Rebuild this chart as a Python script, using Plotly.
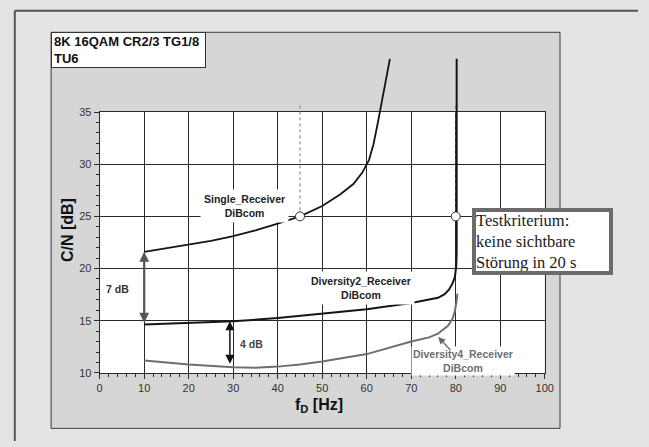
import plotly.graph_objects as go

W, H = 649, 447

# ---------------- data ----------------
single_f = [10, 15, 20, 25, 30, 35, 40, 45, 50, 54, 57, 59, 60.5, 61.5, 62.5, 63.5, 64.5, 65.2]
single_cn = [21.6, 21.95, 22.25, 22.65, 23.1, 23.65, 24.3, 25.0, 26.0, 27.1, 28.1, 29.2, 30.4, 31.9, 34.0, 36.3, 38.5, 40.1]

div2_f = [10, 20, 30, 40, 50, 60, 70, 74, 76, 77.5, 78.5, 79.3, 79.8, 80.1, 80.2, 80.2]
div2_cn = [14.63, 14.8, 14.95, 15.25, 15.65, 16.1, 16.7, 17.0, 17.2, 17.55, 18.0, 18.6, 19.2, 20.2, 21.5, 40.1]

div4_f = [10, 20, 30, 35, 40, 45, 50, 60, 70, 74, 76, 78.3, 79.3, 79.8, 80.2, 80.35]
div4_cn = [11.18, 10.8, 10.55, 10.5, 10.6, 10.8, 11.1, 11.8, 13.0, 13.4, 13.75, 14.54, 15.2, 15.94, 16.9, 17.6]

marker_f = [45, 80]
marker_cn = [25, 25]

x_ticks = [0, 10, 20, 30, 40, 50, 60, 70, 80, 90, 100]
y_ticks = [10, 15, 20, 25, 30, 35]

# ---------------- geometry helpers ----------------
def px_x(p):
    return p / W

def px_y(p):
    return 1 - p / H

PLOT_L, PLOT_R, PLOT_T, PLOT_B = 98.5, 552, 109, 377
Y_MIN, Y_MAX = 10, 35
Y_EXT = 40.6
ppu = (PLOT_B - PLOT_T) / (Y_MAX - Y_MIN)
EXT_T = PLOT_T - (Y_EXT - Y_MAX) * ppu

SANS = "Liberation Sans, Arial, sans-serif"
SERIF = "Liberation Serif, Times New Roman, serif"
GRID = "#2b2b2b"

fig = go.Figure()

# curves on the extended (invisible) axes so they can leave the plot frame at top
fig.add_trace(go.Scatter(x=single_f, y=single_cn, mode="lines", xaxis="x2", yaxis="y2",
                         line=dict(color="#151515", width=1.8), hoverinfo="skip"))
fig.add_trace(go.Scatter(x=div4_f, y=div4_cn, mode="lines", xaxis="x2", yaxis="y2",
                         line=dict(color="#6e6e6e", width=2), hoverinfo="skip"))
fig.add_trace(go.Scatter(x=div2_f, y=div2_cn, mode="lines", xaxis="x2", yaxis="y2",
                         line=dict(color="#151515", width=2), hoverinfo="skip"))
fig.add_trace(go.Scatter(x=marker_f, y=marker_cn, mode="markers", xaxis="x2", yaxis="y2",
                         marker=dict(symbol="circle", size=9, color="white",
                                     line=dict(color="#333333", width=1)),
                         cliponaxis=False, hoverinfo="skip"))

shapes = [
    # outer frame (left + top)
    dict(type="line", xref="paper", yref="paper", x0=px_x(12), x1=px_x(12), y0=0, y1=px_y(5),
         line=dict(color="#555555", width=2), layer="below"),
    dict(type="line", xref="paper", yref="paper", x0=px_x(12), x1=px_x(647), y0=px_y(5), y1=px_y(5),
         line=dict(color="#555555", width=2), layer="below"),
    # panel
    dict(type="rect", xref="paper", yref="paper", x0=px_x(49), x1=px_x(567.5),
         y0=px_y(434), y1=px_y(27), fillcolor="#d6d6d6",
         line=dict(color="#3a3a3a", width=1), layer="below"),
    # white plot area
    dict(type="rect", xref="x", yref="y", x0=0, x1=100, y0=Y_MIN, y1=Y_MAX,
         fillcolor="white", line=dict(width=0), layer="below"),
    # dotted marker lines
    dict(type="line", xref="x2", yref="y2", x0=45, x1=45, y0=25, y1=35.65,
         line=dict(color="#777777", width=1, dash="dot"), layer="below"),
    dict(type="line", xref="x2", yref="y2", x0=80, x1=80, y0=25, y1=35.6,
         line=dict(color="#777777", width=1, dash="dot"), layer="below"),
]

annotations = [
    # title box
    dict(xref="paper", yref="paper", x=px_x(49), y=px_y(27), xanchor="left", yanchor="top",
         text="<b>8K 16QAM CR2/3 TG1/8<br>TU6</b>", showarrow=False, align="left",
         font=dict(family=SANS, size=13, color="#111111"),
         bgcolor="white", bordercolor="#333333", borderwidth=1, borderpad=2,
         width=149, height=30),
    # speed labels
    dict(xref="x", yref="y", x=37.5, y=36.34, xanchor="center", yanchor="middle",
         text="90 km/h@504MHz", showarrow=False,
         font=dict(family=SANS, size=10.5, color="#222222"),
         bgcolor="white", bordercolor="#333333", borderwidth=1, borderpad=1),
    dict(xref="x", yref="y", x=88.7, y=36.25, xanchor="center", yanchor="middle",
         text="160 km/h@504MHz", showarrow=False,
         font=dict(family=SANS, size=10.5, color="#222222"),
         bgcolor="white", bordercolor="#333333", borderwidth=1, borderpad=1),
    # curve labels
    dict(xref="x", yref="y", x=32.56, y=26.04, xanchor="center", yanchor="middle",
         text="<b>Single_Receiver<br>DiBcom</b>",
         showarrow=False, font=dict(family=SANS, size=10.5, color="#222222"),
         bgcolor="white", borderpad=3),
    dict(xref="x", yref="y", x=58.7, y=18.16, xanchor="center", yanchor="middle",
         text="<b>Diversity2_Receiver<br>DiBcom</b>",
         showarrow=False, font=dict(family=SANS, size=10.5, color="#222222"),
         bgcolor="white", borderpad=3),
    dict(xref="x", yref="y", x=81.57, y=11.17, xanchor="center", yanchor="middle",
         text="<b>Diversity4_Receiver<br>DiBcom</b>",
         showarrow=False, font=dict(family=SANS, size=10.5, color="#6e6e6e"),
         bgcolor="white", borderpad=1),
    # dB labels
    dict(xref="x", yref="y", x=4.08, y=18.02, xanchor="center", yanchor="middle",
         text="<b>7 dB</b>", showarrow=False,
         font=dict(family=SANS, size=10.5, color="#333333")),
    dict(xref="x", yref="y", x=34.2, y=12.8, xanchor="center", yanchor="middle",
         text="<b>4 dB</b>", showarrow=False,
         font=dict(family=SANS, size=10.5, color="#444444")),
    # double arrows
    dict(xref="x", yref="y", axref="x", ayref="y", x=10, y=21.6, ax=10, ay=14.66, text="",
         showarrow=True, arrowside="end+start", arrowhead=2, startarrowhead=2,
         arrowsize=0.9, startarrowsize=0.9, arrowwidth=2.2, arrowcolor="#555555"),
    dict(xref="x", yref="y", axref="x", ayref="y", x=29.25, y=14.94, ax=29.25, ay=10.72, text="",
         showarrow=True, arrowside="end+start", arrowhead=2, startarrowhead=2,
         arrowsize=1.2, startarrowsize=1.2, arrowwidth=1.5, arrowcolor="#111111"),
    # pointer to Diversity4 curve
    dict(xref="x", yref="y", axref="x", ayref="y", x=76.05, y=13.45, ax=79.1, ay=12.05, text="",
         showarrow=True, arrowhead=2, arrowsize=1.2, arrowwidth=1.2, arrowcolor="#666666"),
    # test criterion box
    dict(xref="paper", yref="paper", x=px_x(478), y=px_y(208), xanchor="left", yanchor="top",
         text="Testkriterium:<br>keine sichtbare<br>Störung in 20 s", showarrow=False,
         align="left", valign="middle", font=dict(family=SERIF, size=16.5, color="#1a1a1a"),
         bgcolor="white", bordercolor="#6b6b6b", borderwidth=4, borderpad=0,
         width=133, height=59),
    # axis titles
    dict(xref="paper", yref="paper", x=px_x(66.5), y=px_y(230), xanchor="center", yanchor="middle",
         text="<b>C/N [dB]</b>", textangle=-90, showarrow=False,
         font=dict(family=SANS, size=16, color="#111111")),
    dict(xref="paper", yref="paper", x=px_x(322), y=px_y(411), xanchor="center", yanchor="middle",
         text="<b>f<sub>D</sub> [Hz]</b>",
         showarrow=False, font=dict(family=SANS, size=16, color="#111111")),
]

axis_common = dict(showline=True, mirror=True, linecolor=GRID, linewidth=1,
                   showgrid=True, gridcolor=GRID, gridwidth=1, zeroline=False,
                   ticks="outside", ticklen=5, tickcolor=GRID, tickwidth=1,
                   tickfont=dict(family=SANS, size=11, color="#333333"))

fig.update_layout(
    width=W, height=H, margin=dict(l=0, r=0, t=0, b=0),
    paper_bgcolor="#e4e4e4", plot_bgcolor="rgba(0,0,0,0)",
    showlegend=False,
    xaxis=dict(domain=[px_x(PLOT_L), px_x(PLOT_R)], range=[0, 100], tickvals=x_ticks,
               minor=dict(dtick=2, ticks="outside", ticklen=3, tickcolor=GRID, showgrid=False),
               anchor="y", **axis_common),
    yaxis=dict(domain=[px_y(PLOT_B), px_y(PLOT_T)], range=[Y_MIN, Y_MAX], tickvals=y_ticks,
               minor=dict(dtick=1, ticks="outside", ticklen=3, tickcolor=GRID, showgrid=False),
               anchor="x", **axis_common),
    xaxis2=dict(domain=[px_x(PLOT_L), px_x(PLOT_R)], range=[0, 100], visible=False, anchor="y2"),
    yaxis2=dict(domain=[px_y(PLOT_B), px_y(EXT_T)], range=[Y_MIN, Y_EXT], visible=False, anchor="x2"),
    shapes=shapes,
    annotations=annotations,
)

post = ("document.documentElement.style.margin='0';document.body.style.margin='0';"
        "document.body.style.padding='0';document.documentElement.style.overflow='hidden';"
        "document.body.style.overflow='hidden';")
fig.write_html("out.html", post_script=post, config=dict(displayModeBar=False))
